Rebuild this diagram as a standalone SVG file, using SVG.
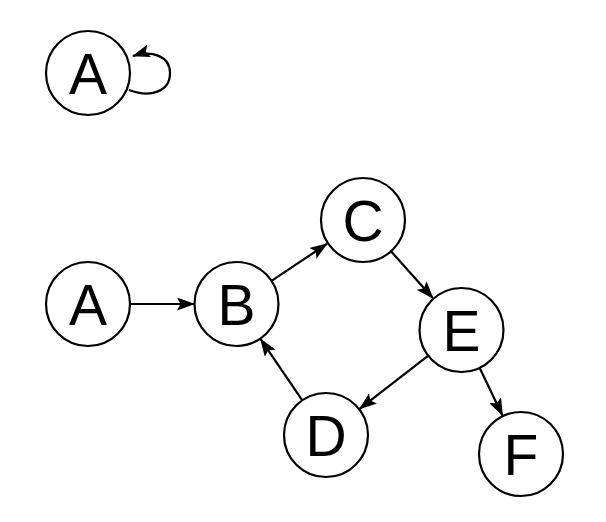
<svg xmlns="http://www.w3.org/2000/svg" width="606" height="522" viewBox="0 0 606 522">
<style>
.n circle{fill:#fff;stroke:#000;stroke-width:2.2}
.n text{font-family:"Liberation Sans",Arial,sans-serif;font-size:57px;text-anchor:middle;fill:#000}
.e path{fill:none;stroke:#000;stroke-width:2.2;marker-end:url(#arr)}
</style>
<defs>
<marker id="arr" viewBox="0 0 18 13" refX="17" refY="6.5" markerWidth="18" markerHeight="13" markerUnits="userSpaceOnUse" orient="auto">
<path d="M0,0 L18,6.5 L0,13 L3.5,6.5 Z" fill="#000"/>
</marker>
</defs>
<rect width="606" height="522" fill="#fff"/>
<g id="edges" class="e">
<path d="M129,90 C150,98 170,92 170,73 C170,56 152,50 133,56"/>
<path d="M130,304 L194,304"/>
<path d="M271.5,280.8 L327,243.8"/>
<path d="M391,251.3 L433,298.2"/>
<path d="M428.3,355.7 L359.6,408.8"/>
<path d="M479.7,367.9 L502.5,415.5"/>
<path d="M302.3,400.3 L260.6,339.2"/>
</g>
<g id="nodeA1" class="n"><circle cx="88" cy="73" r="42"/><text x="88" y="93.5">A</text></g>
<g id="nodeA2" class="n"><circle cx="88" cy="304" r="42"/><text x="88" y="324.5">A</text></g>
<g id="nodeB" class="n"><circle cx="236.5" cy="304" r="42"/><text x="236.5" y="324.5">B</text></g>
<g id="nodeC" class="n"><circle cx="363" cy="220" r="42"/><text x="363" y="240.5">C</text></g>
<g id="nodeE" class="n"><circle cx="461.5" cy="330" r="42"/><text x="461.5" y="350.5">E</text></g>
<g id="nodeD" class="n"><circle cx="326" cy="435" r="42"/><text x="326" y="455.5">D</text></g>
<g id="nodeF" class="n"><circle cx="521" cy="454" r="42"/><text x="521" y="474.5">F</text></g>
</svg>
